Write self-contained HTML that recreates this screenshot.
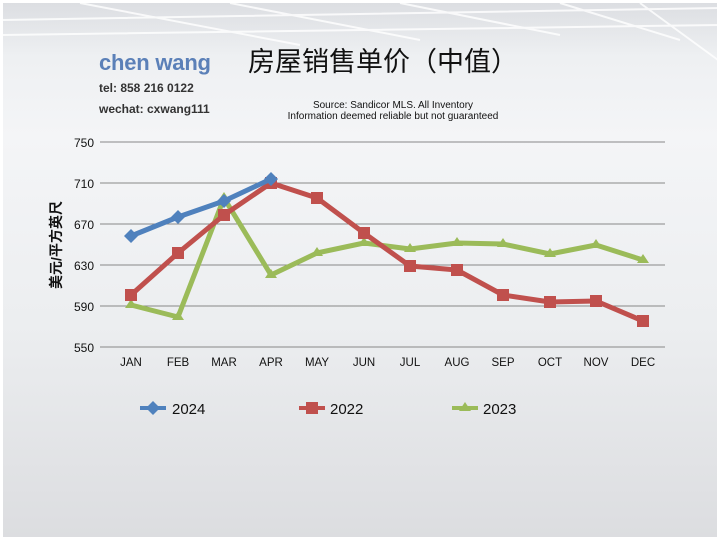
<!DOCTYPE html>
<html><head><meta charset="utf-8"><style>
body{margin:0;width:720px;height:540px;overflow:hidden;background:#fff;font-family:"Liberation Sans","Noto Sans CJK SC",sans-serif}
#bg{position:absolute;left:3px;top:3px;width:714px;height:534px;background:linear-gradient(#dcdee2 0%,#eef0f2 10%,#f4f5f7 25%,#eceef0 60%,#dcdde0 100%)}
</style></head><body>
<div id="bg"></div>
<svg width="720" height="540" style="position:absolute;left:0;top:0">
<g stroke="#fff" stroke-width="2" opacity="0.8" fill="none">
<path d="M3 20 L720 8 M3 35 L720 25 M80 3 L300 45 M230 3 L420 40 M400 3 L560 35 M560 3 L680 40 M640 3 L718 60"/>
</g>
<text x="99" y="70" font-size="22" font-weight="bold" fill="#5b80b8" font-family="Liberation Sans,sans-serif" textLength="112">chen wang</text>
<text x="99" y="92" font-size="12" font-weight="bold" fill="#333">tel: 858 216 0122</text>
<text x="99" y="113" font-size="12" font-weight="bold" fill="#333">wechat: cxwang111</text>
<text x="248" y="71" font-size="27" fill="#111" font-family="Liberation Sans,Noto Sans CJK SC,sans-serif">房屋销售单价（中值）</text>
<text x="393" y="108" font-size="10" text-anchor="middle" fill="#111">Source: Sandicor MLS. All Inventory</text>
<text x="393" y="119" font-size="10" text-anchor="middle" fill="#111">Information deemed reliable but not guaranteed</text>
<g stroke="#888" stroke-width="1">
<line x1="100" x2="665" y1="142" y2="142"/><line x1="100" x2="665" y1="183" y2="183"/><line x1="100" x2="665" y1="224" y2="224"/><line x1="100" x2="665" y1="265" y2="265"/><line x1="100" x2="665" y1="306" y2="306"/><line x1="100" x2="665" y1="347" y2="347"/>
</g>
<g font-size="12" fill="#111" text-anchor="end">
<text x="94" y="147">750</text><text x="94" y="188">710</text><text x="94" y="229">670</text><text x="94" y="270">630</text><text x="94" y="311">590</text><text x="94" y="352">550</text>
</g>
<g font-size="11.5" fill="#111" text-anchor="middle">
<text x="131" y="366">JAN</text><text x="178" y="366">FEB</text><text x="224" y="366">MAR</text><text x="271" y="366">APR</text><text x="317" y="366">MAY</text><text x="364" y="366">JUN</text><text x="410" y="366">JUL</text><text x="457" y="366">AUG</text><text x="503" y="366">SEP</text><text x="550" y="366">OCT</text><text x="596" y="366">NOV</text><text x="643" y="366">DEC</text>
</g>
<text transform="translate(61,245) rotate(-90)" font-size="14" font-weight="bold" text-anchor="middle" fill="#111">美元/平方英尺</text>
<polyline fill="none" stroke="#9bbb59" stroke-width="5" stroke-linejoin="round" points="131,305 178,317 224,198 271,275 317,253 364,243 410,249 457,243 503,244 550,254 596,245 643,260"/>
<g fill="#9bbb59">
<path d="M131,299 l6,9 h-12z M178,311 l6,9 h-12z M224,192 l6,9 h-12z M271,269 l6,9 h-12z M317,247 l6,9 h-12z M364,237 l6,9 h-12z M410,243 l6,9 h-12z M457,237 l6,9 h-12z M503,238 l6,9 h-12z M550,248 l6,9 h-12z M596,239 l6,9 h-12z M643,254 l6,9 h-12z"/>
</g>
<polyline fill="none" stroke="#c0504d" stroke-width="5" stroke-linejoin="round" points="131,295 178,253 224,215 271,183 317,198 364,233 410,266 457,270 503,295 550,302 596,301 643,321"/>
<g fill="#c0504d">
<rect x="125" y="289" width="12" height="12"/><rect x="172" y="247" width="12" height="12"/><rect x="218" y="209" width="12" height="12"/><rect x="265" y="177" width="12" height="12"/><rect x="311" y="192" width="12" height="12"/><rect x="358" y="227" width="12" height="12"/><rect x="404" y="260" width="12" height="12"/><rect x="451" y="264" width="12" height="12"/><rect x="497" y="289" width="12" height="12"/><rect x="544" y="296" width="12" height="12"/><rect x="590" y="295" width="12" height="12"/><rect x="637" y="315" width="12" height="12"/>
</g>
<polyline fill="none" stroke="#4f81bd" stroke-width="5" stroke-linejoin="round" points="131,236 178,217 224,201 271,179"/>
<g fill="#4f81bd">
<path d="M131,229 l7,7 l-7,7 l-7,-7z M178,210 l7,7 l-7,7 l-7,-7z M224,194 l7,7 l-7,7 l-7,-7z M271,172 l7,7 l-7,7 l-7,-7z"/>
</g>
<line x1="140" x2="166" y1="408" y2="408" stroke="#4f81bd" stroke-width="4"/>
<path d="M153,401 l7,7 l-7,7 l-7,-7z" fill="#4f81bd"/>
<text x="172" y="414" font-size="15" fill="#111">2024</text>
<line x1="299" x2="325" y1="408" y2="408" stroke="#c0504d" stroke-width="4"/>
<rect x="306" y="402" width="12" height="12" fill="#c0504d"/>
<text x="330" y="414" font-size="15" fill="#111">2022</text>
<line x1="452" x2="478" y1="408" y2="408" stroke="#9bbb59" stroke-width="4"/>
<path d="M465,402 l6,9 h-12z" fill="#9bbb59"/>
<text x="483" y="414" font-size="15" fill="#111">2023</text>
</svg>
</body></html>
